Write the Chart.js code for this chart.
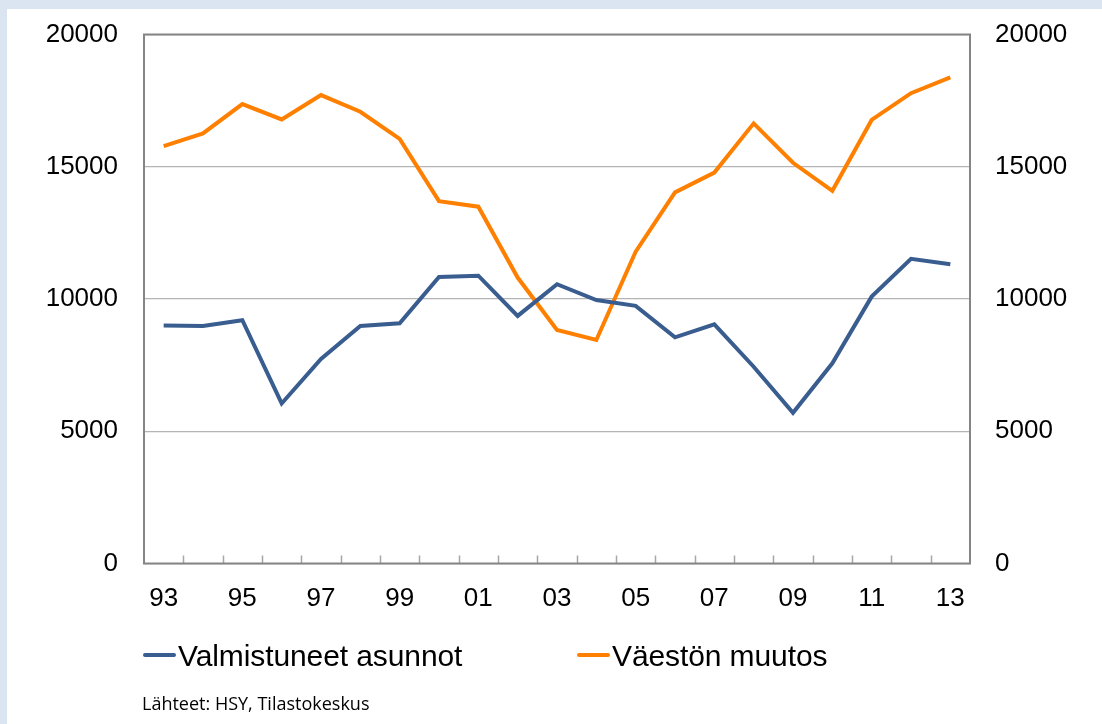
<!DOCTYPE html>
<html>
<head>
<meta charset="utf-8">
<script src="https://cdn.jsdelivr.net/npm/chart.js@4"></script>
<style>
  html, body { margin: 0; padding: 0; }
  body { width: 1102px; height: 724px; background: #dbe5f1; position: relative; overflow: hidden; font-family: "Liberation Sans", Arial, sans-serif; }
  #panel { position: absolute; left: 7px; top: 9px; right: 0; bottom: 0; background: #fff; }
  #chart { position: absolute; left: 0; top: 0; }
  .legend-item { position: absolute; top: 641px; height: 30px; line-height: 30px; font-size: 30px; color: #000; white-space: nowrap; }
  .legend-item .swatch { position: absolute; left: 0; top: 12px; width: 33px; height: 4px; border-radius: 2px; }
  .legend-item .txt { position: absolute; left: 35px; letter-spacing: -0.1px; }
  #source { position: absolute; left: 142px; top: 695px; font-family: "Open Sans", sans-serif; font-size: 18px; line-height: 17px; color: #000; }
</style>
</head>
<body>
<div id="panel"></div>
<canvas id="chart" width="1102" height="724"></canvas>
<div id="legend"></div>
<div id="source">Lähteet: HSY, Tilastokeskus</div>

<script>
// Years (two-digit labels)
const years = ["93", "94", "95", "96", "97", "98", "99", "00", "01", "02", "03",
               "04", "05", "06", "07", "08", "09", "10", "11", "12", "13"];

// Completed dwellings
const valmistuneet = [9000, 8980, 9200, 6050, 7730, 8980, 9080, 10830, 10880, 9360, 10560,
                      9960, 9740, 8550, 9040, 7440, 5700, 7570, 10090, 11520, 11310];

// Population change
const vaestonMuutos = [15780, 16260, 17370, 16790, 17710, 17080, 16050, 13700, 13490, 10810, 8830,
                       8450, 11790, 14030, 14780, 16640, 15150, 14090, 16770, 17780, 18380];

const seriesNames = ["Valmistuneet asunnot", "Väestön muutos"];
const seriesColors = ["#3a5d90", "#ff8000"];
const yTicks = [0, 5000, 10000, 15000, 20000];

// Frame around the plot area and small x tick marks pointing inside
const framePlugin = {
  id: "frame",
  afterDraw(chart) {
    const ctx = chart.ctx;
    const a = chart.chartArea;
    const xs = chart.scales.x;
    const half = (xs.getPixelForValue(1) - xs.getPixelForValue(0)) / 2;
    ctx.save();
    ctx.strokeStyle = "#a6a6a6";
    ctx.lineWidth = 1.5;
    for (let i = 1; i < years.length; i++) {
      const x = Math.round(xs.getPixelForValue(i) - half) + 0.5;
      ctx.beginPath();
      ctx.moveTo(x, a.bottom);
      ctx.lineTo(x, a.bottom - 8);
      ctx.stroke();
    }
    ctx.strokeStyle = "#858585";
    ctx.lineWidth = 2;
    ctx.strokeRect(a.left, a.top, a.right - a.left, a.bottom - a.top);
    ctx.restore();
  },
};

const tickFont = { family: "'Liberation Sans', Arial, sans-serif", size: 26 };
const plainNumber = function (value) { return String(value); };

const chart = new Chart(document.getElementById("chart").getContext("2d"), {
  type: "line",
  data: {
    labels: years,
    datasets: [
      {
        label: seriesNames[0],
        data: valmistuneet,
        borderColor: seriesColors[0],
        backgroundColor: seriesColors[0],
        borderWidth: 4,
        pointRadius: 0,
        tension: 0,
        yAxisID: "y",
      },
      {
        label: seriesNames[1],
        data: vaestonMuutos,
        borderColor: seriesColors[1],
        backgroundColor: seriesColors[1],
        borderWidth: 4,
        pointRadius: 0,
        tension: 0,
        yAxisID: "y1",
      },
    ],
  },
  options: {
    responsive: false,
    animation: false,
    layout: { padding: { top: 34.5, left: 0, right: 0, bottom: 0 } },
    plugins: {
      legend: { display: false },
      tooltip: { enabled: false },
    },
    scales: {
      x: {
        offset: true,
        grid: { display: false, drawTicks: false, offset: true },
        border: { display: false },
        ticks: {
          autoSkip: false,
          maxRotation: 0,
          padding: 20,
          color: "#000",
          font: tickFont,
          callback: function (value, index) {
            return index % 2 === 0 ? years[index] : "";
          },
        },
        afterFit: function (scale) {
          scale.height = 724 - 563.5;
          scale.paddingLeft = 0;
          scale.paddingRight = 0;
        },
      },
      y: {
        position: "left",
        min: 0,
        max: 20000,
        afterBuildTicks: function (scale) { scale.ticks = yTicks.map(v => ({ value: v })); },
        grid: { color: "#b4b4b4", lineWidth: 1.3, drawTicks: false },
        border: { display: false },
        ticks: { padding: 26, color: "#000", font: tickFont, callback: plainNumber },
        afterFit: function (scale) {
          scale.width = 144;
          scale.paddingTop = 0;
          scale.paddingBottom = 0;
        },
      },
      y1: {
        position: "right",
        min: 0,
        max: 20000,
        afterBuildTicks: function (scale) { scale.ticks = yTicks.map(v => ({ value: v })); },
        grid: { drawOnChartArea: false, drawTicks: false },
        border: { display: false },
        ticks: { padding: 25, color: "#000", font: tickFont, callback: plainNumber },
        afterFit: function (scale) {
          scale.width = 1102 - 970;
          scale.paddingTop = 0;
          scale.paddingBottom = 0;
        },
      },
    },
  },
  plugins: [framePlugin],
});

// HTML legend built from the chart datasets
const legendLefts = [143, 577];
const legendEl = document.getElementById("legend");
chart.data.datasets.forEach(function (ds, i) {
  const item = document.createElement("div");
  item.className = "legend-item";
  item.style.left = legendLefts[i] + "px";
  const sw = document.createElement("span");
  sw.className = "swatch";
  sw.style.background = ds.borderColor;
  const txt = document.createElement("span");
  txt.className = "txt";
  txt.textContent = ds.label;
  item.appendChild(sw);
  item.appendChild(txt);
  legendEl.appendChild(item);
});
</script>
</body>
</html>
